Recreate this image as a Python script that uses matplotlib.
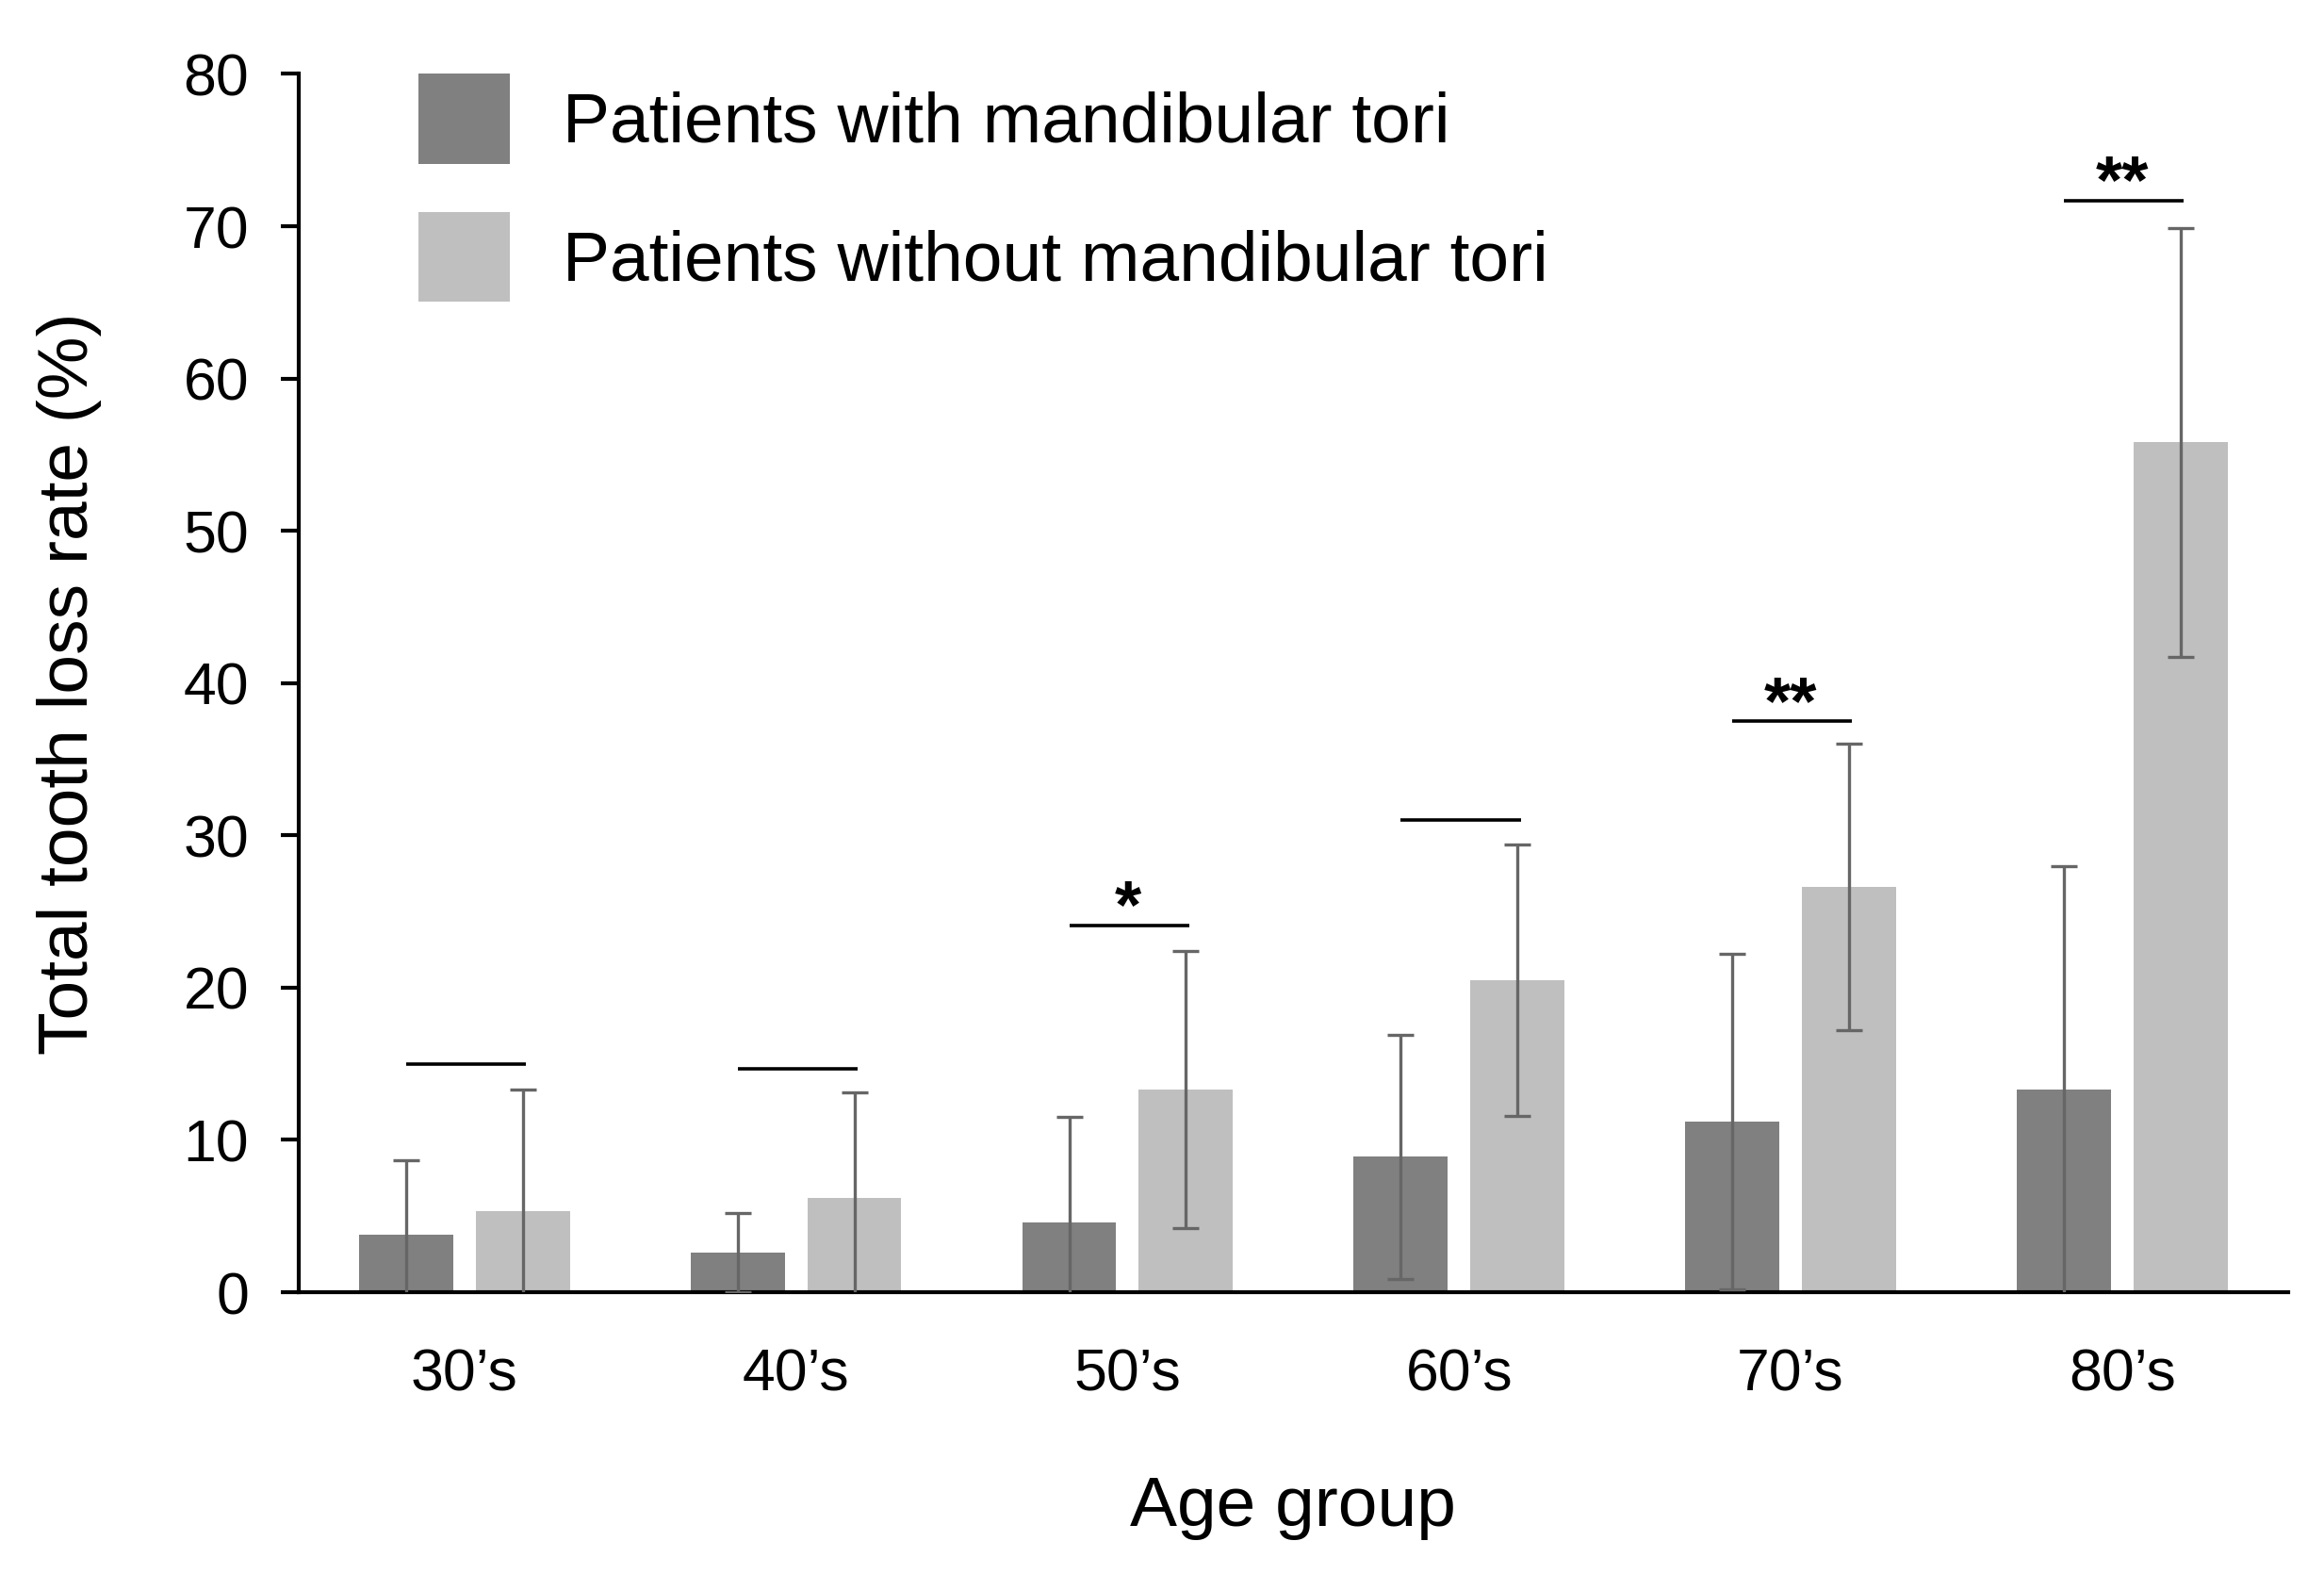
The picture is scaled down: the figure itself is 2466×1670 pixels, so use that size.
import matplotlib
matplotlib.use("Agg")
import matplotlib.pyplot as plt
from matplotlib.patches import Patch
import numpy as np

plt.rcParams['font.family'] = ['Liberation Sans', 'DejaVu Sans']

groups = ["30\u2019s", "40\u2019s", "50\u2019s", "60\u2019s", "70\u2019s", "80\u2019s"]
with_tori = [3.8, 2.6, 4.6, 8.9, 11.2, 13.3]
with_sd = [4.9, 2.6, 6.9, 8.0, 11.0, 14.7]
without_tori = [5.3, 6.2, 13.3, 20.5, 26.6, 55.8]
without_sd = [8.0, 6.9, 9.1, 8.9, 9.4, 14.1]
sig_height = [15.0, 14.7, 24.1, 31.0, 37.5, 71.7]
sig_marks = ["", "", "*", "", "**", "**"]

dark = "#808080"
light = "#bfbfbf"
err_col = "#666666"

fig = plt.figure(figsize=(24.66, 16.70), dpi=100)
ax = fig.add_axes([0.1285, 0.179, 0.856, 0.774])

x = np.arange(len(groups))
w = 0.284
off = 0.176

ax.bar(x - off, with_tori, w, color=dark, zorder=2)
ax.bar(x + off, without_tori, w, color=light, zorder=2)
ax.errorbar(x - off, with_tori, yerr=with_sd, fmt="none", ecolor=err_col,
            elinewidth=2.4, capsize=10, capthick=2.4, zorder=3)
ax.errorbar(x + off, without_tori, yerr=without_sd, fmt="none", ecolor=err_col,
            elinewidth=2.4, capsize=10, capthick=2.4, zorder=3)

for i in range(len(groups)):
    ax.plot([x[i] - off, x[i] + off + 0.01], [sig_height[i], sig_height[i]],
            color="black", lw=2.6, solid_capstyle="butt", zorder=3)
    if sig_marks[i]:
        ax.text(x[i], sig_height[i] + 1.0, sig_marks[i], ha="center", va="center",
                fontsize=52, fontweight="bold")

ax.set_xlim(-0.5, 5.5)
ax.set_ylim(0, 80)
ax.set_yticks(range(0, 81, 10))
ax.set_xticks(x)
ax.set_xticklabels(groups)

ax.spines["top"].set_visible(False)
ax.spines["right"].set_visible(False)
ax.spines["left"].set_linewidth(3)
ax.spines["bottom"].set_linewidth(3)
ax.tick_params(axis="y", length=14, width=3, labelsize=45, pad=24)
ax.tick_params(axis="x", length=0, labelsize=45, pad=42)

ax.set_ylabel("Total tooth loss rate (%)", fontsize=54, labelpad=62)
ax.set_xlabel("Age group", fontsize=54, labelpad=55)

handles = [Patch(facecolor=dark, edgecolor="none"),
           Patch(facecolor=light, edgecolor="none")]
ax.legend(handles, ["Patients with mandibular tori", "Patients without mandibular tori"],
          loc="upper left", bbox_to_anchor=(0.06, 1.0), frameon=False,
          fontsize=54, handlelength=1.3, handleheight=1.58, handletextpad=0.75,
          labelspacing=0.68, borderpad=0, borderaxespad=0)

fig.savefig("out.png", dpi=100, facecolor="white")
